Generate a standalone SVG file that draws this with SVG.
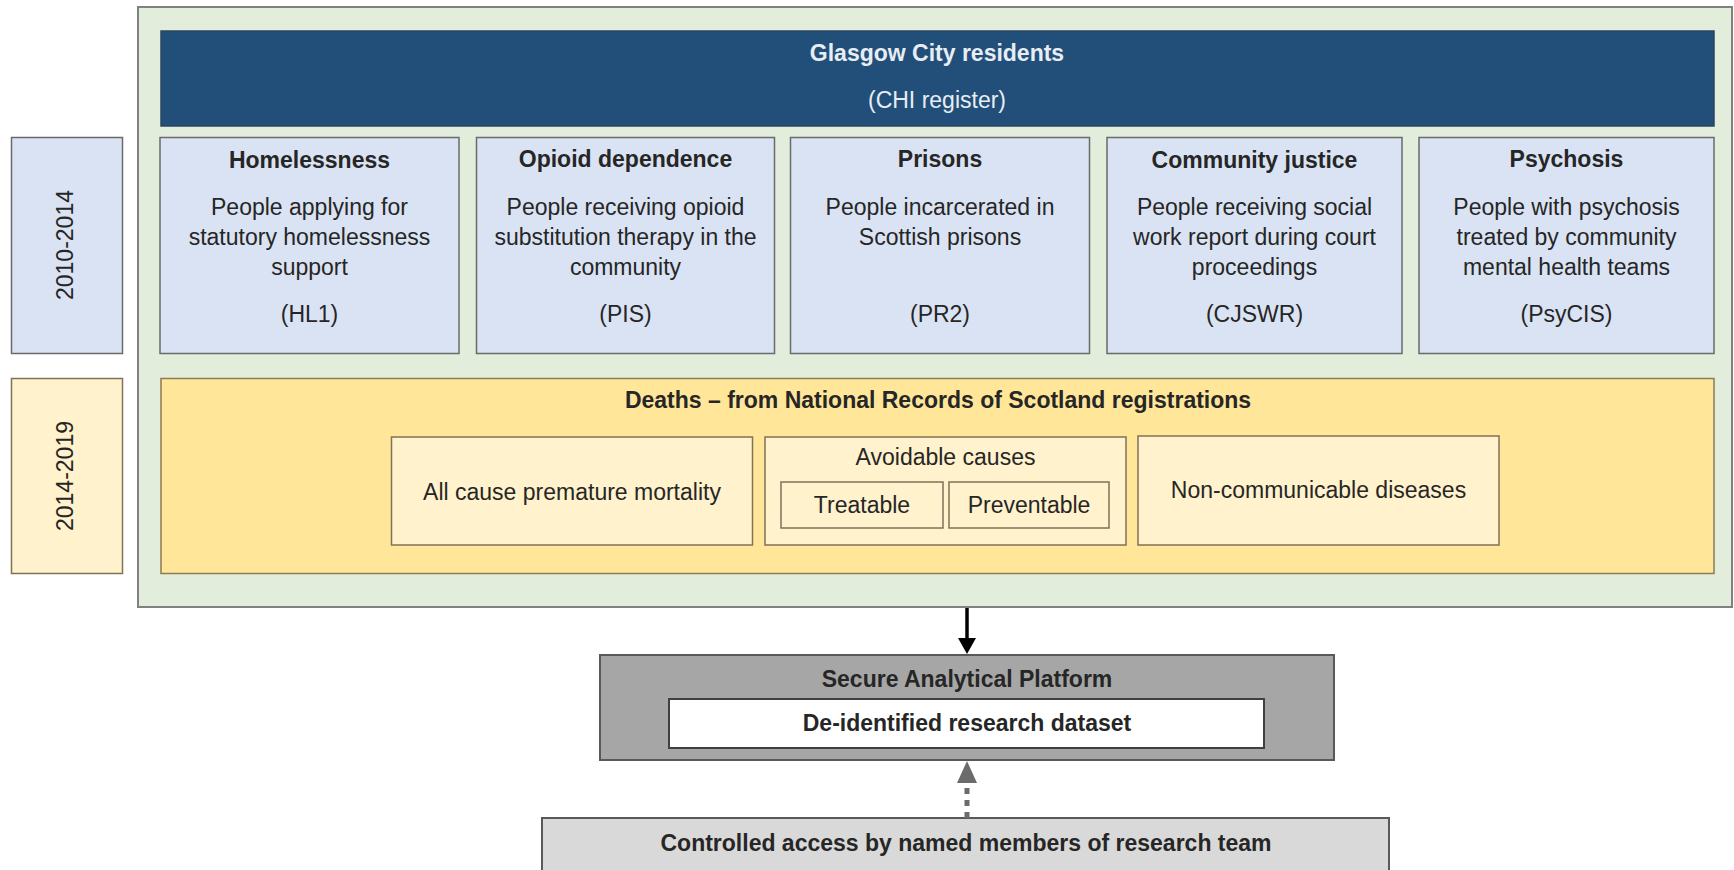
<svg xmlns="http://www.w3.org/2000/svg" width="1734" height="870" viewBox="0 0 1734 870">
<style>
text{font-family:"Liberation Sans",Arial,sans-serif;font-size:23px;fill:#262626;text-anchor:middle}
.b{font-weight:bold}
.lt{fill:#e8edf3}
.blue{fill:#dae3f3;stroke:#6a6a6a;stroke-width:1.5}
.cream{fill:#fff2cc;stroke:#7f7257;stroke-width:1.5}
</style>
<rect width="1734" height="870" fill="#ffffff"/>

<g id="container">
<rect x="138" y="7" width="1594" height="600" fill="#e2eedb" stroke="#808080" stroke-width="2"/>
</g>

<g id="year-2010">
<rect class="blue" x="11.5" y="137.5" width="111" height="216"/>
<text transform="translate(73,245) rotate(-90)">2010-2014</text>
</g>
<g id="year-2014">
<rect class="cream" x="11.5" y="378.5" width="111" height="195" stroke="#808080"/>
<text transform="translate(73,476) rotate(-90)">2014-2019</text>
</g>

<g id="glasgow">
<rect x="161" y="31" width="1553" height="95" fill="#214f7a" stroke="#2b4560" stroke-width="1.5"/>
<text class="b lt" x="937" y="61">Glasgow City residents</text>
<text class="lt" x="937" y="108">(CHI register)</text>
</g>

<g id="homelessness">
<rect class="blue" x="160" y="137.5" width="299" height="216"/>
<text class="b" x="309.5" y="168">Homelessness</text>
<text x="309.5" y="215">People applying for</text>
<text x="309.5" y="245">statutory homelessness</text>
<text x="309.5" y="275">support</text>
<text x="309.5" y="322">(HL1)</text>
</g>
<g id="opioid">
<rect class="blue" x="476.5" y="137.5" width="298" height="216"/>
<text class="b" x="625.5" y="167">Opioid dependence</text>
<text x="625.5" y="215">People receiving opioid</text>
<text x="625.5" y="245">substitution therapy in the</text>
<text x="625.5" y="275">community</text>
<text x="625.5" y="322">(PIS)</text>
</g>
<g id="prisons">
<rect class="blue" x="790.5" y="137.5" width="299" height="216"/>
<text class="b" x="940" y="167">Prisons</text>
<text x="940" y="215">People incarcerated in</text>
<text x="940" y="245">Scottish prisons</text>
<text x="940" y="322">(PR2)</text>
</g>
<g id="community-justice">
<rect class="blue" x="1107" y="137.5" width="295" height="216"/>
<text class="b" x="1254.5" y="168">Community justice</text>
<text x="1254.5" y="215">People receiving social</text>
<text x="1254.5" y="245">work report during court</text>
<text x="1254.5" y="275">proceedings</text>
<text x="1254.5" y="322">(CJSWR)</text>
</g>
<g id="psychosis">
<rect class="blue" x="1419" y="137.5" width="295" height="216"/>
<text class="b" x="1566.5" y="167">Psychosis</text>
<text x="1566.5" y="215">People with psychosis</text>
<text x="1566.5" y="245">treated by community</text>
<text x="1566.5" y="275">mental health teams</text>
<text x="1566.5" y="322">(PsyCIS)</text>
</g>

<g id="deaths">
<rect x="161" y="378.5" width="1553" height="195" fill="#ffe699" stroke="#8a7b55" stroke-width="1.5"/>
<text class="b" x="938" y="408">Deaths – from National Records of Scotland registrations</text>
</g>
<g id="all-cause">
<rect class="cream" x="391.5" y="437" width="361" height="108"/>
<text x="572" y="500">All cause premature mortality</text>
</g>
<g id="avoidable">
<rect class="cream" x="765" y="437" width="361" height="108"/>
<text x="945.5" y="465">Avoidable causes</text>
</g>
<g id="treatable">
<rect class="cream" x="781" y="482" width="162" height="46"/>
<text x="862" y="513">Treatable</text>
</g>
<g id="preventable">
<rect class="cream" x="949" y="482" width="160" height="46"/>
<text x="1029" y="513">Preventable</text>
</g>
<g id="ncd">
<rect class="cream" x="1138" y="436" width="361" height="109"/>
<text x="1318.5" y="498">Non-communicable diseases</text>
</g>

<g id="secure-platform">
<rect x="600" y="655" width="734" height="105" fill="#a6a6a6" stroke="#595959" stroke-width="2"/>
<text class="b" x="967" y="687">Secure Analytical Platform</text>
</g>
<g id="dataset">
<rect x="669" y="699" width="595" height="49" fill="#ffffff" stroke="#404040" stroke-width="2"/>
<text class="b" x="967" y="731">De-identified research dataset</text>
</g>
<g id="controlled-access">
<rect x="542" y="818" width="847" height="60" fill="#d9d9d9" stroke="#595959" stroke-width="2"/>
<text class="b" x="966" y="851">Controlled access by named members of research team</text>
</g>

<g id="connectors">
<line x1="967" y1="608" x2="967" y2="640" stroke="#000" stroke-width="3.5"/>
<polygon points="958,638 976,638 967,654" fill="#000"/>
<line x1="967" y1="818" x2="967" y2="782" stroke="#6b6b6b" stroke-width="5" stroke-dasharray="6,6"/>
<polygon points="957,783 977,783 967,761" fill="#6b6b6b"/>
</g>
</svg>
